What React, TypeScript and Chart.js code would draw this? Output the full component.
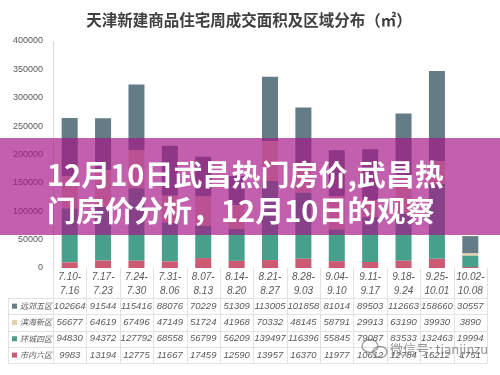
import React, { useEffect, useRef } from "react";
import { Chart, registerables } from "chart.js";

Chart.register(...registerables);

const chartTitle = "天津新建商品住宅周成交面积及区域分布（㎡）";
const weekStarts = ["7.10-", "7.17-", "7.24-", "7.31-", "8.07-", "8.14-", "8.21-", "8.28-", "9.04-", "9.11-", "9.18-", "9.25-", "10.02-"];
const weekEnds = ["7.16", "7.23", "7.30", "8.06", "8.13", "8.20", "8.27", "9.03", "9.10", "9.17", "9.24", "10.01", "10.08"];
const categories = weekStarts.map((s, i) => s + weekEnds[i]);

const yuanjiaoName = "远郊五区";
const binhaiName = "滨海新区";
const huanchengName = "环城四区";
const shineiName = "市内六区";

const yuanjiao = [102664, 91544, 115416, 88076, 70229, 51309, 113005, 101858, 81014, 89503, 112663, 158660, 30557];
const binhai = [56677, 64619, 67496, 47149, 51724, 41968, 70332, 48145, 58791, 29913, 63190, 39930, 3890];
const huancheng = [94830, 94372, 127792, 68558, 56799, 56209, 139497, 116396, 55845, 79087, 83533, 132463, 19994];
const shinei = [9983, 13194, 12775, 11667, 17459, 12590, 13957, 16370, 11977, 10612, 12784, 16212, 1751];

const yMin = 0;
const yMax = 400000;
const yStep = 50000;

const bannerLine1 = "12月10日武昌热门房价,武昌热";
const bannerLine2 = "门房价分析，12月10日的观察";
const watermarkText = "微信号: tianjinzu";

const colors = {
  yuanjiao: "#647c86",
  binhai: "#e8cfa8",
  huancheng: "#47a08b",
  shinei: "#cd5a73",
};

const tableRows = [
  { name: yuanjiaoName, data: yuanjiao, color: colors.yuanjiao },
  { name: binhaiName, data: binhai, color: colors.binhai },
  { name: huanchengName, data: huancheng, color: colors.huancheng },
  { name: shineiName, data: shinei, color: colors.shinei },
];

const decorPlugin = {
  id: "decor",
  afterDraw(chart: any) {
    const { ctx, chartArea } = chart;
    const n = categories.length;
    const colW = (chartArea.right - chartArea.left) / n;
    const top = chartArea.bottom;
    const headerBottom = top + 30;
    const rowH = 16.3;
    const tableLeft = 8;
    const tableBottom = headerBottom + rowH * tableRows.length;
    ctx.save();

    // title
    ctx.fillStyle = "#404040";
    ctx.font = "bold 15.5px 'Noto Sans CJK SC'";
    ctx.textAlign = "center";
    ctx.textBaseline = "middle";
    ctx.fillText(chartTitle, 249, 20);

    // grid of table
    ctx.strokeStyle = "#e2e2e2";
    ctx.lineWidth = 1;
    for (let i = 0; i <= n; i++) {
      const xp = Math.round(chartArea.left + i * colW) + 0.5;
      ctx.beginPath();
      ctx.moveTo(xp, top);
      ctx.lineTo(xp, tableBottom);
      ctx.stroke();
    }
    ctx.beginPath();
    ctx.moveTo(tableLeft + 0.5, headerBottom);
    ctx.lineTo(tableLeft + 0.5, tableBottom);
    ctx.stroke();
    for (let r = 0; r <= tableRows.length; r++) {
      const yp = Math.round(headerBottom + r * rowH) + 0.5;
      ctx.beginPath();
      ctx.moveTo(tableLeft, yp);
      ctx.lineTo(chartArea.right, yp);
      ctx.stroke();
    }

    // header
    ctx.fillStyle = "#595959";
    ctx.font = "italic 10px 'Liberation Sans'";
    ctx.textAlign = "center";
    for (let i = 0; i < n; i++) {
      const cx = chart.scales.x.getPixelForValue(i);
      ctx.fillText(weekStarts[i], cx, top + 9);
      ctx.fillText(weekEnds[i], cx, top + 23);
    }

    // rows
    tableRows.forEach((row, r) => {
      const cy = headerBottom + r * rowH + rowH / 2;
      ctx.fillStyle = row.color;
      ctx.fillRect(12, cy - 2.5, 5, 5);
      ctx.fillStyle = "#595959";
      ctx.font = "italic 8px 'Noto Sans CJK SC'";
      ctx.textAlign = "left";
      ctx.fillText(row.name, 20, cy);
      ctx.font = "italic 9.5px 'Liberation Sans'";
      ctx.textAlign = "center";
      row.data.forEach((v, i) => {
        const cx = chart.scales.x.getPixelForValue(i);
        ctx.fillText(String(v), cx, cy);
      });
    });

    // watermark
    ctx.globalAlpha = 0.75;
    ctx.strokeStyle = "#7a7a7a";
    ctx.lineWidth = 1.3;
    ctx.beginPath();
    ctx.ellipse(370, 346, 8, 6.5, 0, 0, Math.PI * 2);
    ctx.stroke();
    ctx.beginPath();
    ctx.ellipse(380, 352, 7, 5.5, 0, 0, Math.PI * 2);
    ctx.stroke();
    ctx.fillStyle = "#707070";
    ctx.font = "13px 'Noto Sans CJK SC'";
    ctx.textAlign = "left";
    ctx.fillText(watermarkText, 390, 349);
    ctx.restore();
  },
};

export default function App() {
  const ref = useRef<HTMLCanvasElement>(null);
  useEffect(() => {
    const chart = new Chart(ref.current as HTMLCanvasElement, {
      type: "bar",
      data: {
        labels: categories,
        datasets: [
          { label: shineiName, data: shinei, backgroundColor: colors.shinei },
          { label: huanchengName, data: huancheng, backgroundColor: colors.huancheng },
          { label: binhaiName, data: binhai, backgroundColor: colors.binhai },
          { label: yuanjiaoName, data: yuanjiao, backgroundColor: colors.yuanjiao },
        ],
      },
      options: {
        animation: false,
        responsive: false,
        maintainAspectRatio: false,
        devicePixelRatio: 1,
        datasets: { bar: { categoryPercentage: 1, barPercentage: 0.48 } },
        layout: { padding: { top: 41, bottom: 107, left: 0, right: 13 } },
        plugins: {
          legend: { display: false },
          tooltip: { enabled: false },
          title: { display: false },
        },
        scales: {
          x: { stacked: true, display: false, offset: true },
          y: {
            stacked: true,
            min: yMin,
            max: yMax,
            ticks: {
              stepSize: yStep,
              padding: 10,
              color: "#595959",
              font: { size: 9, family: "'Liberation Sans'" },
              callback: (v: any) => String(v),
            },
            grid: { display: false, drawTicks: false },
            border: { display: true, color: "#d9d9d9" },
            afterFit(scale: any) {
              scale.width = 53;
            },
          },
        },
      },
      plugins: [decorPlugin],
    } as any);
    return () => chart.destroy();
  }, []);

  return (
    <div style={{ position: "absolute", left: 0, top: 0, width: 500, height: 375, background: "#fff", overflow: "hidden" }}>
      <canvas ref={ref} width={500} height={375} style={{ display: "block", width: 500, height: 375 }} />
      <div
        style={{
          position: "absolute",
          left: 0,
          top: 138,
          width: 500,
          height: 97,
          background: "rgba(165,20,135,0.68)",
        }}
      />
      <div
        style={{
          position: "absolute",
          left: 47,
          top: 155,
          color: "#ffffff",
          fontFamily: "'Noto Sans CJK SC'",
          fontWeight: 700,
          fontSize: 29,
          lineHeight: "36px",
          whiteSpace: "nowrap",
        }}
      >
        <div>{bannerLine1}</div>
        <div>{bannerLine2}</div>
      </div>
    </div>
  );
}
